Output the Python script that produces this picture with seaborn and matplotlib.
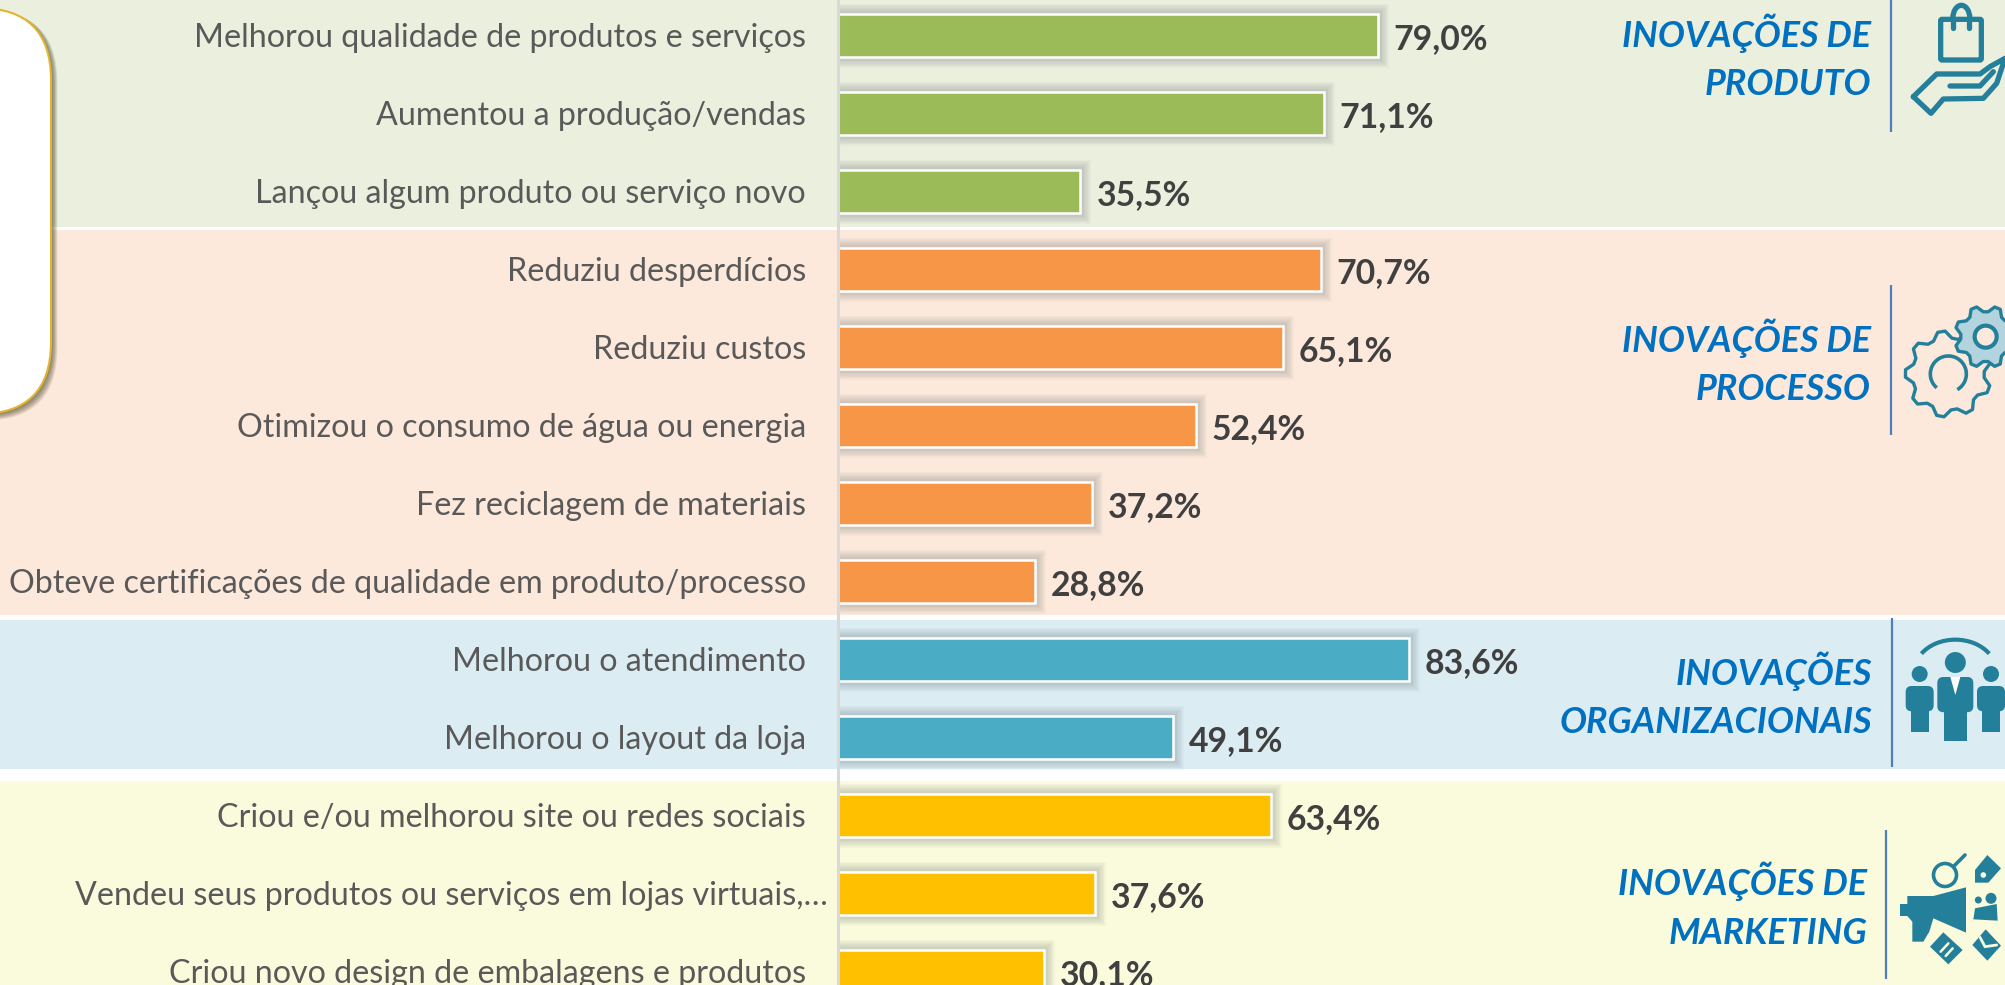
#!/usr/bin/env python3
"""Barras horizontais: resultados das inovacoes, agrupadas por tipo."""
import matplotlib
matplotlib.use("Agg")
import matplotlib.patheffects as pe
import matplotlib.pyplot as plt
import numpy as np
import pandas as pd
import seaborn as sns
from matplotlib.patches import Arc, Circle, FancyBboxPatch, Polygon, Rectangle

acoes = [
    "Melhorou qualidade de produtos e serviços",
    "Aumentou a produção/vendas",
    "Lançou algum produto ou serviço novo",
    "Reduziu desperdícios",
    "Reduziu custos",
    "Otimizou o consumo de água ou energia",
    "Fez reciclagem de materiais",
    "Obteve certificações de qualidade em produto/processo",
    "Melhorou o atendimento",
    "Melhorou o layout da loja",
    "Criou e/ou melhorou site ou redes sociais",
    "Vendeu seus produtos ou serviços em lojas virtuais,…",
    "Criou novo design de embalagens e produtos",
]
valores = [79.0, 71.1, 35.5, 70.7, 65.1, 52.4, 37.2, 28.8, 83.6, 49.1, 63.4, 37.6, 30.1]
grupos = ["produto"] * 3 + ["processo"] * 5 + ["organizacionais"] * 2 + ["marketing"] * 3
cores = {"produto": "#9BBB59", "processo": "#F79646", "organizacionais": "#4BACC6", "marketing": "#FFC000"}

W, H = 2006, 985
X0 = 838
FONTE = "Lato"
TEAL = "#24809A"
AZUL = "#0070C0"
LINHA = "#4F7DC0"

sns.set_theme(style="white")
plt.rcParams["font.family"] = [FONTE, "DejaVu Sans"]

fig = plt.figure(figsize=(W / 100, H / 100), dpi=100, facecolor="white")

# fundo em pixels, por baixo do grafico
bg = fig.add_axes([0, 0, 1, 1], zorder=0)
bg.set_xlim(0, W)
bg.set_ylim(H, 0)
bg.axis("off")
for y0, y1, c in [(0, 227, "#EBEFDE"), (230, 615, "#FDE9DB"), (620, 769, "#DBEDF3"), (781, 985, "#FAFBDC")]:
    bg.add_patch(Rectangle((0, y0), W, y1 - y0, fc=c, ec="none"))

# caixa branca cortada na margem esquerda (com sombra suave)
for k in range(8, 0, -1):
    bg.add_patch(FancyBboxPatch((-130, 8 + k * .3), 181 + k * .8, 406 + k * .5, boxstyle="round,pad=0,rounding_size=72",
                                fc="#3A3A18", ec="none", alpha=.1))
bg.add_patch(FancyBboxPatch((-130, 8), 181, 406, boxstyle="round,pad=0,rounding_size=72", fc="white", ec="#E3B52E", lw=1.5))

# barras
ax = fig.add_axes([X0 / W, 0, (W - X0) / W, 1], zorder=1)
ax.patch.set_alpha(0)
df = pd.DataFrame({"acao": acoes, "valor": valores, "grupo": grupos})
sns.barplot(data=df, y="acao", x="valor", hue="grupo", palette=cores, dodge=False, width=.56,
            edgecolor="white", linewidth=1.8, legend=False, saturation=1, ax=ax)
ax.set_xlim(0, (W - X0) / 6.83)
ax.set_ylim((H - 35.5) / 78, (0 - 35.5) / 78)
ax.set_xlabel("")
ax.set_ylabel("")
ax.set_xticks([])
for s in ["top", "right", "bottom"]:
    ax.spines[s].set_visible(False)
ax.spines["left"].set_color("#D9D9D9")
ax.spines["left"].set_linewidth(2.2)
ax.tick_params(axis="y", length=0, pad=23, labelsize=23.2, labelcolor="#595959")
ax.yaxis.get_major_ticks()[11].set_pad(7.5)

# brilho difuso em volta de cada barra
sombra = [pe.Stroke(linewidth=w, foreground="#4A5A60", alpha=.045) for w in [15, 13, 11, 9, 7, 5]]
for cont in ax.containers:
    dados = [v for v in cont.datavalues if not np.isnan(v)]
    for barra in cont:
        barra.set_path_effects(sombra + [pe.Normal()])
    rotulos = ax.bar_label(cont, labels=[f"{v:.1f}%".replace(".", ",") for v in dados], padding=11, fontsize=24.3,
                           fontweight="bold", color="#404040")
    for t in rotulos:
        t.xyann = (11.5, -2.5)

# titulos, linhas e icones, em pixels
fg = fig.add_axes([0, 0, 1, 1], zorder=2)
fg.patch.set_alpha(0)
fg.set_xlim(0, W)
fg.set_ylim(H, 0)
fg.axis("off")

titulos = [
    ("INOVAÇÕES DE", 47, 1871), ("PRODUTO", 95, 1871),
    ("INOVAÇÕES DE", 352, 1871), ("PROCESSO", 400, 1871),
    ("INOVAÇÕES", 685, 1872), ("ORGANIZACIONAIS", 733, 1872),
    ("INOVAÇÕES DE", 895, 1867), ("MARKETING", 944, 1867),
]
for txt, y, x in titulos:
    fg.text(x, y, txt, ha="right", va="baseline", fontsize=25.8, fontweight="bold", fontstyle="italic", color=AZUL)
for x, y0, y1 in [(1891, 0, 132), (1891, 285, 435), (1892, 618, 767), (1886, 830, 979)]:
    fg.plot([x, x], [y0, y1], color=LINHA, lw=1.6, solid_capstyle="butt")


def z(x, y, oy=0):
    return 1500 + x / 3, oy + y / 3


# sacola na mao
fg.add_patch(FancyBboxPatch(z(1322, 58), 122 / 3, 122 / 3, boxstyle="round,pad=0,rounding_size=1.5", fc="none", ec=TEAL, lw=3.8))
cx, cy = z(1384, 55)
fg.add_patch(Arc((cx, cy), 17, 26, theta1=180, theta2=360, ec=TEAL, lw=3.8))
fg.plot(*zip(z(1360, 55), z(1360, 85)), color=TEAL, lw=3.8, solid_capstyle="round")
fg.plot(*zip(z(1408, 55), z(1408, 85)), color=TEAL, lw=3.8, solid_capstyle="round")
mao = [z(1240, 290), z(1310, 222), z(1440, 222), z(1470, 200), z(1515, 175), z(1490, 250), z(1450, 295), z(1330, 297), z(1293, 340)]
fg.plot(*zip(*(mao + [mao[0]])), color=TEAL, lw=3.8, solid_joinstyle="round")
fg.plot(*zip(z(1350, 258), z(1440, 258), z(1480, 215)), color=TEAL, lw=3.8, solid_capstyle="round")


def engrenagem(x, y, r, dentes, dh, face):
    ang = np.linspace(0, 2 * np.pi, dentes * 4, endpoint=False) + .1
    raio = np.tile([r, r + dh, r + dh, r], dentes)
    pts = np.c_[x + raio * np.cos(ang), y + raio * np.sin(ang)]
    fg.add_patch(Polygon(pts, closed=True, fc=face, ec=TEAL, lw=2.4, joinstyle="round"))


# engrenagens
gx, gy = z(1345, 1122)
engrenagem(gx, gy, 36, 9, 7, "none")
fg.add_patch(Arc((gx, gy), 36, 36, theta1=-170, theta2=120, angle=-60, ec=TEAL, lw=2.6))
gx, gy = z(1457, 1010)
engrenagem(gx, gy, 25, 8, 6, "#B3D4DE")
fg.add_patch(Circle((gx, gy), 11, fc="#FDE9DB", ec=TEAL, lw=3))


def pessoa(x, topo, r, larg, alt, gravata=False):
    fg.add_patch(Circle((x, topo + r), r, fc=TEAL, ec="none"))
    ombro = topo + 2 * r + 4
    fg.add_patch(FancyBboxPatch((x - larg / 2, ombro), larg, alt * .55, boxstyle="round,pad=0,rounding_size=6", fc=TEAL, ec="none"))
    fg.add_patch(Rectangle((x - larg * .32, ombro + alt * .3), larg * .64, alt * .7, fc=TEAL, ec="none"))
    if gravata:
        fg.add_patch(Polygon([(x - 5, ombro), (x + 5, ombro), (x, ombro + 18)], fc="white", ec="none"))


# equipe
pessoa(1500 + 1259 / 3, 600 + 198 / 3, 8, 28, 46)
pessoa(1500 + 1473 / 3, 600 + 198 / 3, 8, 28, 46)
pessoa(1500 + 1366 / 3, 600 + 156 / 3, 10.5, 36, 64, gravata=True)
cx, cy = z(1366, 215, 600)
fg.add_patch(Arc((cx, cy), 82, 64, theta1=208, theta2=332, ec=TEAL, lw=3))

# megafone e etiquetas
fg.add_patch(Polygon([z(1200, 912, 600), z(1222, 912, 600), z(1222, 888, 600), z(1300, 888, 600), z(1398, 862, 600), z(1398, 998, 600),
                      z(1300, 955, 600), z(1288, 995, 600), z(1270, 1025, 600), z(1237, 1025, 600), z(1237, 965, 600),
                      z(1222, 948, 600), z(1200, 948, 600)], fc=TEAL, ec="none"))
cx, cy = z(1335, 825, 600)
fg.add_patch(Circle((cx, cy), 11.5, fc="none", ec=TEAL, lw=2.6))
fg.plot(*zip(z(1362, 798, 600), z(1395, 765, 600)), color=TEAL, lw=2.6)
fg.add_patch(Polygon([z(1425, 810, 600), z(1462, 765, 600), z(1503, 805, 600), z(1465, 848, 600), z(1425, 848, 600)], fc=TEAL, ec="none"))
cx, cy = z(1450, 825, 600)
fg.add_patch(Circle((cx, cy), 2.8, fc="#FAFBDC", ec="none"))
cx, cy = z(1435, 900, 600)
fg.add_patch(Circle((cx, cy), 3.5, fc=TEAL, ec="none"))
cx, cy = z(1473, 895, 600)
fg.add_patch(Circle((cx, cy), 5.5, fc=TEAL, ec="none"))
fg.add_patch(Polygon([z(1420, 958, 600), z(1425, 925, 600), z(1490, 912, 600), z(1493, 962, 600)], fc=TEAL, ec="none"))
fg.add_patch(Polygon([z(1290, 1040, 600), z(1330, 997, 600), z(1388, 1050, 600), z(1345, 1093, 600)], fc=TEAL, ec="none"))
fg.plot(*zip(z(1322, 1055, 600), z(1345, 1030, 600)), color="#FAFBDC", lw=1.8)
fg.plot(*zip(z(1337, 1068, 600), z(1358, 1045, 600)), color="#FAFBDC", lw=1.8)
fg.add_patch(Polygon([z(1417, 1035, 600), z(1457, 988, 600), z(1503, 1037, 600), z(1462, 1082, 600)], fc=TEAL, ec="none"))
fg.plot(*zip(z(1440, 1012, 600), z(1455, 1040, 600), z(1490, 1035, 600)), color="#FAFBDC", lw=2)

fig.savefig("out.png", dpi=100, facecolor="white")
